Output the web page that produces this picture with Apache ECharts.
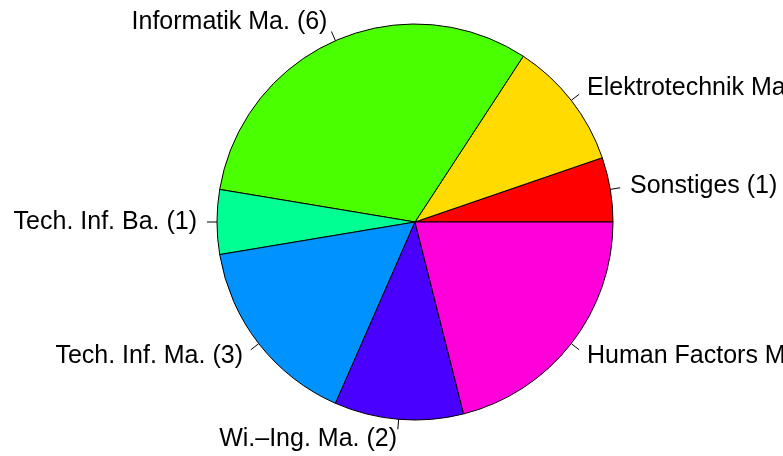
<!DOCTYPE html>
<html>
<head>
<meta charset="utf-8">
<script src="https://cdn.jsdelivr.net/npm/echarts@6/dist/echarts.min.js"></script>
<style>
  html, body { margin: 0; padding: 0; background: #fff; }
</style>
</head>
<body>
<div id="chart" style="width: 783px; height: 456px;"></div>
<script>
const categories = ['Sonstiges', 'Elektrotechnik Ma.', 'Informatik Ma.', 'Tech. Inf. Ba.',
  'Tech. Inf. Ma.', 'Wi.–Ing. Ma.', 'Human Factors Ma.'];
const counts = [1, 2, 6, 1, 3, 2, 4];
// R rainbow(7)
const colors = ['#FF0000', '#FFDB00', '#49FF00', '#00FF92', '#0092FF', '#4900FF', '#FF00DB'];

const chart = echarts.init(document.getElementById('chart'));

const option = {
  animation: false,
  backgroundColor: '#ffffff',
  series: [
    {
      type: 'pie',
      center: [415, 222],
      radius: 198,
      startAngle: 0,
      clockwise: false,
      avoidLabelOverlap: false,
      emphasis: {disabled: true},
      itemStyle: {borderColor: '#000', borderWidth: 1},
      label: {
        show: true,
        position: 'outside',
        formatter: '{b} ({c})',
        color: '#000',
        fontFamily: '"Liberation Sans", Arial, Helvetica, sans-serif',
        fontSize: 25
      },
      labelLine: {
        show: true,
        length: 10,
        length2: 0,
        smooth: false,
        lineStyle: {color: '#000', width: 1}
      },
      // put the text where R puts it: 1.1 * radius along the slice middle
      labelLayout: function (params) {
        const pts = params.labelLinePoints;
        if (!pts) return {};
        const p0 = pts[0], p1 = pts[1];
        const x = p1[0] + (p1[0] - p0[0]);
        const y = p1[1] + (p1[1] - p0[1]);
        return {
          x: x,
          y: y,
          align: x < 415 ? 'right' : 'left',
          verticalAlign: 'middle',
          labelLinePoints: pts
        };
      },
      data: categories.map((name, i) => ({
        name: name,
        value: counts[i],
        itemStyle: {color: colors[i]}
      }))
    }
  ]
};

chart.setOption(option);
</script>
</body>
</html>
